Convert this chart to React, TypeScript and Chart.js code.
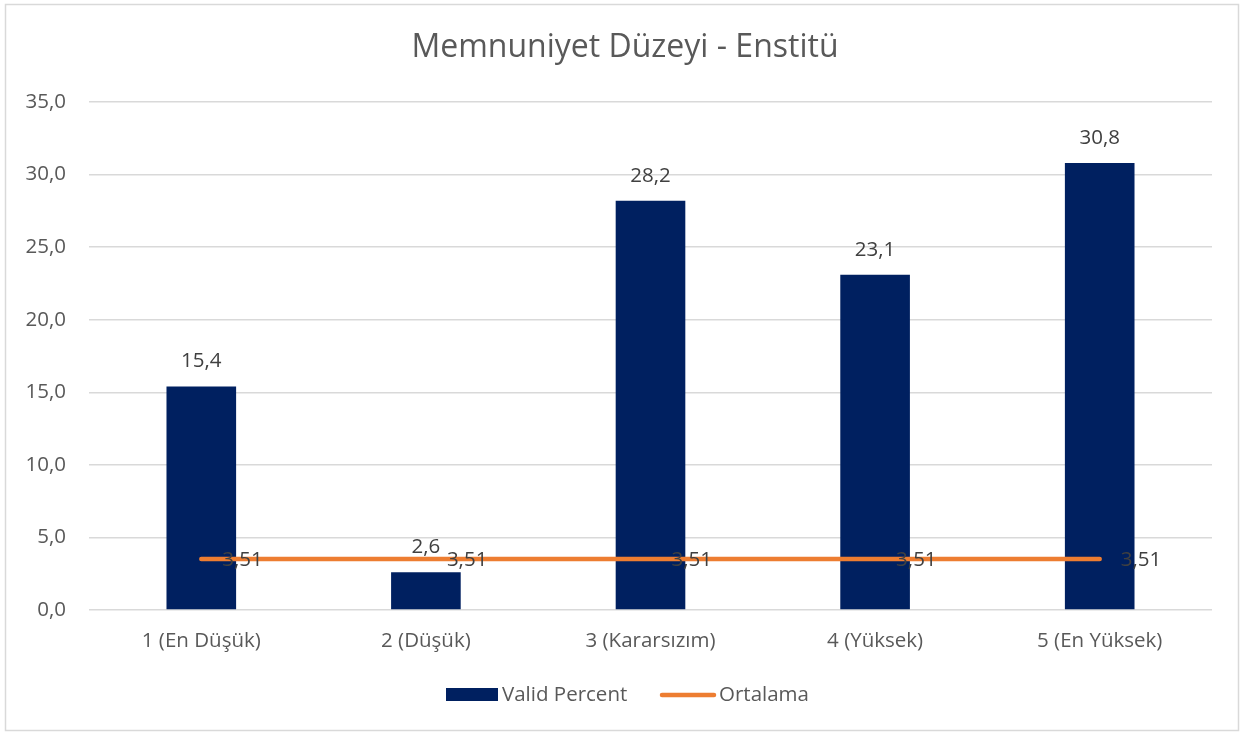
import React, { useEffect, useRef } from "react";
import { Chart, registerables } from "chart.js";

Chart.register(...registerables);

const categories = ["1 (En Düşük)", "2 (Düşük)", "3 (Kararsızım)", "4 (Yüksek)", "5 (En Yüksek)"];
const validPercent = [15.4, 2.6, 28.2, 23.1, 30.8];
const ortalama = [3.51, 3.51, 3.51, 3.51, 3.51];
const titleText = "Memnuniyet Düzeyi - Enstitü";
const seriesNames = ["Valid Percent", "Ortalama"];

const FONT = "'Open Sans', sans-serif";
const NAVY = "#002060";
const ORANGE = "#ED7D31";
const TEXT = "#595959";
const LABEL = "#404040";
const FS = 20.5;

const fmt = (v: number, d: number) => v.toFixed(d).replace(".", ",");

const decorPlugin = {
  id: "decor",
  beforeDraw(chart: any) {
    const ctx = chart.ctx;
    ctx.save();
    ctx.fillStyle = "#ffffff";
    ctx.fillRect(0, 0, chart.width, chart.height);
    ctx.strokeStyle = "#d9d9d9";
    ctx.lineWidth = 1.5;
    ctx.strokeRect(5.5, 4.5, chart.width - 11, chart.height - 8);
    ctx.fillStyle = TEXT;
    ctx.font = `32px ${FONT}`;
    ctx.textAlign = "center";
    ctx.textBaseline = "middle";
    ctx.fillText(titleText, 625, 48);
    // legend
    ctx.font = `${FS}px ${FONT}`;
    ctx.textAlign = "left";
    ctx.fillStyle = NAVY;
    ctx.fillRect(446, 688, 52, 13);
    ctx.fillStyle = TEXT;
    ctx.fillText(seriesNames[0], 502, 695);
    ctx.strokeStyle = ORANGE;
    ctx.lineWidth = 4.5;
    ctx.lineCap = "round";
    ctx.beginPath();
    ctx.moveTo(662, 695);
    ctx.lineTo(714, 695);
    ctx.stroke();
    ctx.fillStyle = TEXT;
    ctx.fillText(seriesNames[1], 719, 695);
    ctx.restore();
  },
  afterDatasetsDraw(chart: any) {
    const ctx = chart.ctx;
    ctx.save();
    ctx.font = `${FS}px ${FONT}`;
    ctx.fillStyle = LABEL;
    ctx.textBaseline = "middle";
    const barMeta = chart.getDatasetMeta(0);
    ctx.textAlign = "center";
    barMeta.data.forEach((el: any, i: number) => {
      ctx.fillText(fmt(validPercent[i], 1), el.x, el.y - 25);
    });
    const lineMeta = chart.getDatasetMeta(1);
    ctx.textAlign = "left";
    lineMeta.data.forEach((el: any, i: number) => {
      ctx.fillText(fmt(ortalama[i], 2), el.x + 21, el.y + 1);
    });
    ctx.restore();
  },
};

export default function App() {
  const ref = useRef<HTMLCanvasElement>(null);
  useEffect(() => {
    document.body.style.margin = "0";
    const chart = new Chart(ref.current!, {
      type: "bar",
      data: {
        labels: categories,
        datasets: [
          {
            type: "bar",
            label: seriesNames[0],
            data: validPercent,
            backgroundColor: NAVY,
            categoryPercentage: 1,
            barPercentage: 0.31,
            order: 2,
          },
          {
            type: "line",
            label: seriesNames[1],
            data: ortalama,
            borderColor: ORANGE,
            borderWidth: 4.5,
            borderCapStyle: "round",
            pointRadius: 0,
            order: 1,
          } as any,
        ],
      },
      options: {
        animation: false,
        responsive: false,
        maintainAspectRatio: false,
        layout: { padding: { left: 0, right: 32, top: 102, bottom: 0 } },
        plugins: { legend: { display: false }, title: { display: false }, tooltip: { enabled: false } },
        scales: {
          x: {
            grid: { display: false, drawTicks: false },
            border: { display: false },
            ticks: { color: TEXT, font: { family: FONT, size: FS }, padding: 19, maxRotation: 0 },
            afterFit: (s: any) => { s.height = 124; },
          },
          y: {
            min: 0,
            max: 35,
            grid: { color: "#d9d9d9", lineWidth: 1.5, drawTicks: false },
            border: { display: false },
            ticks: {
              stepSize: 5,
              color: TEXT,
              font: { family: FONT, size: FS },
              padding: 23,
              callback: (v: any) => fmt(Number(v), 1),
            },
            afterFit: (s: any) => { s.width = 89; },
          },
        },
      },
      plugins: [decorPlugin],
    });
    return () => chart.destroy();
  }, []);
  return (
    <div style={{ width: 1244, height: 734 }}>
      <canvas ref={ref} width={1244} height={734} style={{ display: "block" }} />
    </div>
  );
}
